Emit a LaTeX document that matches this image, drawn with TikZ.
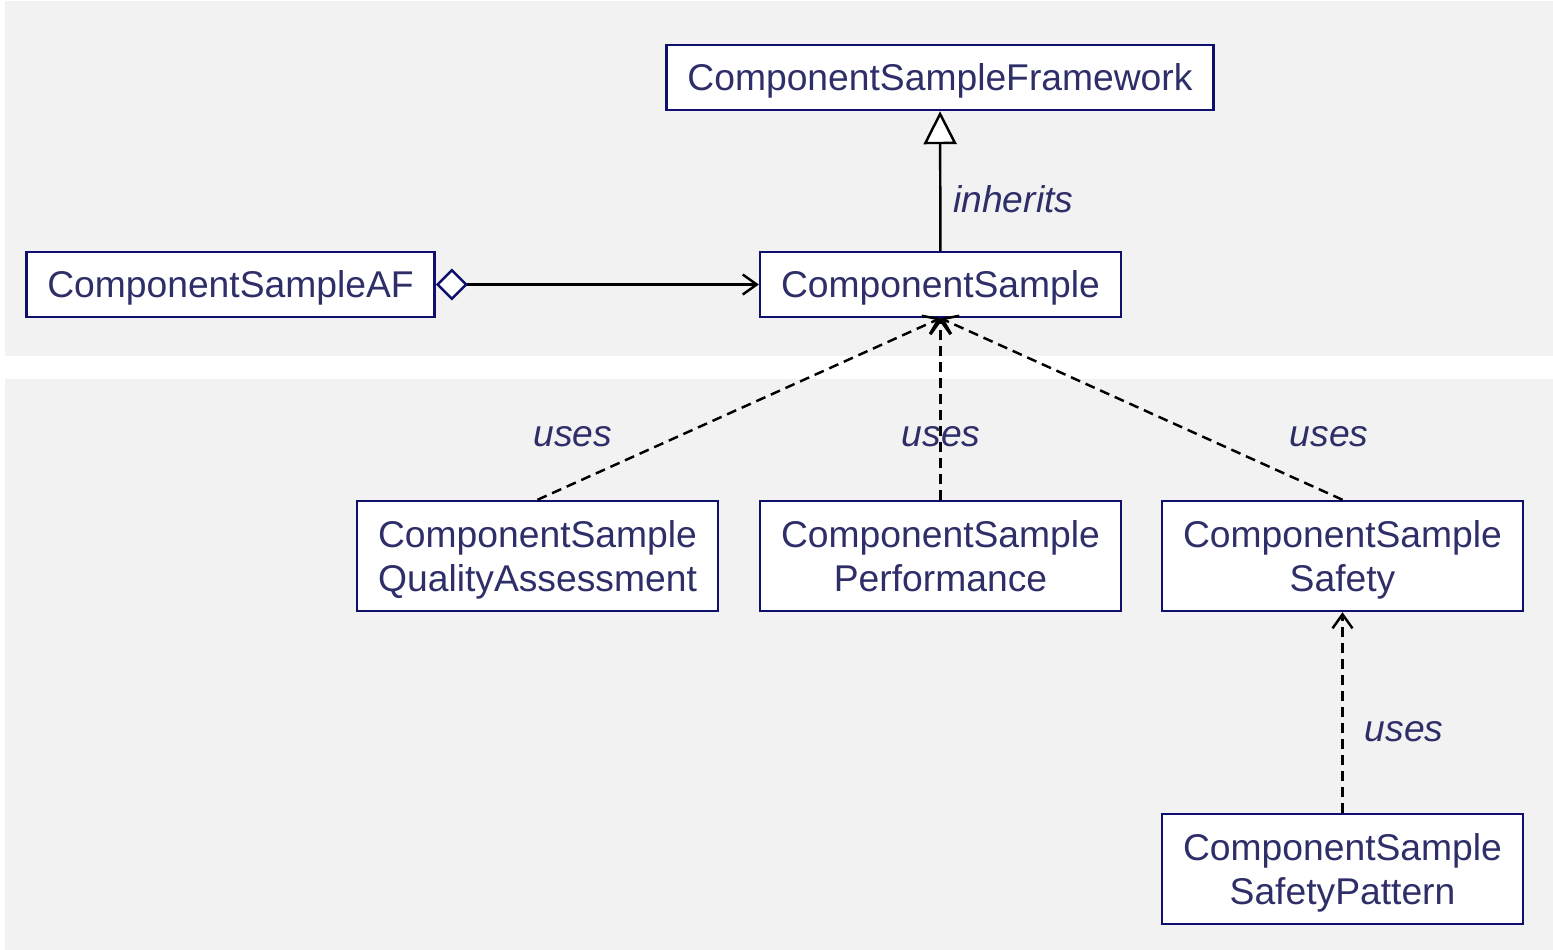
\documentclass[tikz,border=0pt]{standalone}
\usepackage{fontspec}
\setmainfont{Liberation Sans}
\usetikzlibrary{arrows.meta}
\definecolor{umlline}{RGB}{15,15,110}
\definecolor{umltext}{RGB}{46,46,105}
\definecolor{panel}{RGB}{242,242,242}

\begin{document}
\begin{tikzpicture}[
        x=0.02cm,y=-0.02cm,
        cls/.style={draw=umlline,fill=white,line width=1.4pt,rectangle,
            text=umltext,font=\fontsize{21.2}{25.6}\selectfont,inner xsep=0.42cm,
            minimum height=1.3cm,align=center,text depth=0pt},
        twoline/.style={cls,minimum width=7.22cm,minimum height=2.2cm},
        rel/.style={line width=1.4pt,black},
        usesline/.style={rel,dash pattern=on 0.2cm off 0.12cm,
            -{Straight Barb[length=0.28cm,width=0.4cm]}},
        tag/.style={text=umltext,font=\fontsize{21.2}{25.6}\selectfont\itshape}]
        \useasboundingbox (0,0) rectangle (1553,950);
        % panels
        \fill[panel] (5,1) rectangle (1553,356);
        \fill[panel] (5,379) rectangle (1553,950);
        % classes
        \node (fw) [cls] at (940,77.5) {ComponentSampleFramework};
        \node (af) [cls] at (230.5,284.5) {ComponentSampleAF};
        \node (cs) [cls] at (940.5,284.5) {ComponentSample};
        \node (qa) [twoline] at (537.5,556) {ComponentSample\\QualityAssessment};
        \node (perf) [twoline] at (940.5,556) {ComponentSample\\Performance};
        \node (safe) [twoline] at (1342.5,556) {ComponentSample\\Safety};
        \node (pat) [twoline] at (1342.5,869) {ComponentSample\\SafetyPattern};
        % relations
        \draw[rel,-{Triangle[open,fill=white,length=0.66cm,width=0.66cm]}]
            (cs) -- (fw);
        \draw[rel,{Diamond[color=umlline,fill=white,length=0.64cm,width=0.64cm]}-{Straight Barb[length=0.28cm,width=0.4cm]}]
            (af) -- (cs);
        \draw[usesline] (qa.north) -- (cs.south);
        \draw[usesline] (perf.north) -- (cs.south);
        \draw[usesline] (safe.north) -- (cs.south);
        \draw[usesline] (pat.north) -- (safe.south);
        % labels
        \node (inh) [tag,anchor=west] at (947,199) {inherits};
        \node (u1) [tag] at (573,437) {uses};
        \node (u2) [tag] at (941,437) {uses};
        \node (u3) [tag] at (1329,437) {uses};
        \node (u4) [tag] at (1404,732) {uses};
\end{tikzpicture}
\end{document}
